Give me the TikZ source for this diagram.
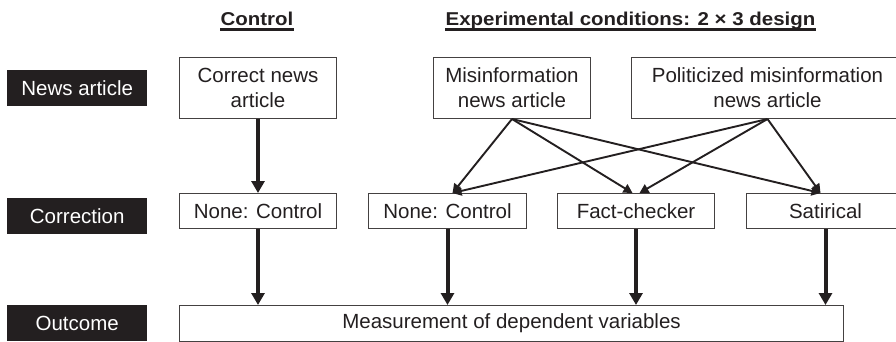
\documentclass[tikz,border=0pt]{standalone}
\usepackage{fontspec}
\setmainfont{Liberation Sans}
\usetikzlibrary{arrows.meta}
\definecolor{ink}{HTML}{231F20}
\tikzset{
  box/.style={draw=ink!85, line width=1pt, inner sep=0pt, align=center, text=ink,
    font=\fontsize{20.5}{25}\selectfont, anchor=north west},
  lbl/.style={fill=ink, inner sep=0pt, text=white, minimum width=140pt, minimum height=36pt,
    font=\fontsize{20.5}{25}\selectfont, anchor=north west},
  hdr/.style={inner sep=0pt, text=ink, anchor=base, font=\fontsize{18.6}{22}\selectfont\bfseries},
  bigarrow/.style={draw=ink, line width=4pt, -{Triangle[length=12pt,width=13pt]}},
  thinarrow/.style={draw=ink, line width=1.9pt, -{Triangle[length=9pt,width=9.5pt]}},
}
\begin{document}
\begin{tikzpicture}[x=1pt,y=-1pt]
\useasboundingbox (0,0) rectangle (896,342);
\clip (0,0) rectangle (896,342);
% headers
\node[hdr] (hc) at (257,25.5) {\scalebox{1.1}[1]{Control}};
\node[hdr] (he) at (630.5,25.5) {\scalebox{1.1}[1]{Experimental conditions: 2 × 3 design}};
\draw[ink, line width=2.3pt] ([yshift=-4pt]hc.base west) -- ([yshift=-4pt]hc.base east);
\draw[ink, line width=2.3pt] ([yshift=-4pt]he.base west) -- ([yshift=-4pt]he.base east);
% row labels
\node[lbl] (lnews) at (7,70) {News article};
\node[lbl] (lcorr) at (7,198) {Correction};
\node[lbl] (lout) at (7,305) {Outcome};
% top boxes
\node[box, minimum width=157pt, minimum height=61pt] (cn) at (179,57) {Correct news\\article};
\node[box, minimum width=157pt, minimum height=61pt] (mi) at (433,57) {Misinformation\\news article};
\node[box, minimum width=272pt, minimum height=61pt] (pm) at (631,57) {Politicized misinformation\\news article};
% correction boxes
\node[box, minimum width=157pt, minimum height=35pt] (nc1) at (179,193) {None: Control};
\node[box, minimum width=158pt, minimum height=35pt] (nc2) at (368,193) {None: Control};
\node[box, minimum width=157pt, minimum height=35pt] (fc) at (557,193) {Fact-checker};
\node[box, minimum width=158pt, minimum height=35pt] (sa) at (746,193) {Satirical};
% outcome
\node[box, minimum width=664pt, minimum height=36pt] (out) at (179,305) {Measurement of dependent variables};
% arrows
\draw[bigarrow] (cn.south) -- (nc1.north);
\draw[bigarrow] (nc1.south) -- (nc1.south |- out.north);
\draw[bigarrow] (nc2.south) -- (nc2.south |- out.north);
\draw[bigarrow] (fc.south) -- (fc.south |- out.north);
\draw[bigarrow] (sa.south) -- (sa.south |- out.north);
\draw[thinarrow] (mi.south) -- ([xshift=5pt]nc2.north);
\draw[thinarrow] (mi.south) -- ([xshift=-3.5pt]fc.north);
\draw[thinarrow] (mi.south) -- ([xshift=-5pt]sa.north);
\draw[thinarrow] (pm.south) -- ([xshift=5pt]nc2.north);
\draw[thinarrow] (pm.south) -- ([xshift=3.5pt]fc.north);
\draw[thinarrow] (pm.south) -- ([xshift=-5pt]sa.north);
\end{tikzpicture}
\end{document}
